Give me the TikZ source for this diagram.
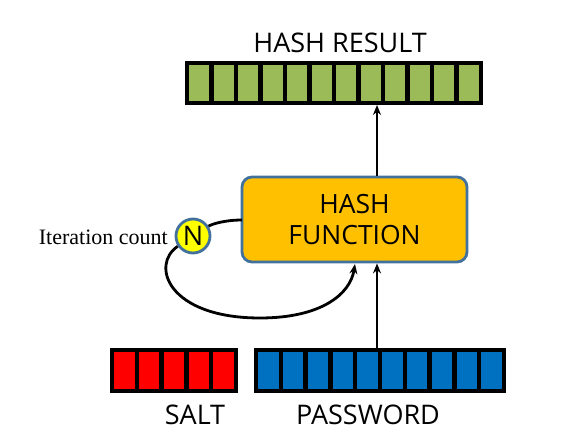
\documentclass[tikz,border=0pt]{standalone}
\usepackage{fontspec}
\setmainfont{Open Sans}
\newfontfamily\serifit{Liberation Serif}
\usetikzlibrary{arrows.meta}
\definecolor{cgreen}{HTML}{9BBB59}
\definecolor{cred}{HTML}{FF0000}
\definecolor{cblue}{HTML}{0070C0}
\definecolor{corange}{HTML}{FFC000}
\definecolor{cedge}{HTML}{41719C}
\definecolor{cyellow}{HTML}{FFFF00}
\tikzset{
  cell/.style={draw=black, line width=4.5pt},
  hfbox/.style={draw=cedge, line width=2.8pt, fill=corange, rounded corners=10pt, minimum width=225pt, minimum height=85pt, inner sep=0pt, align=center, font=\fontsize{26.5}{31}\selectfont},
  ncirc/.style={circle, draw=cedge, line width=2.8pt, fill=cyellow, minimum size=34pt, inner sep=0pt, font=\fontsize{27}{27}\selectfont},
  lbl/.style={font=\fontsize{27}{30}\selectfont, inner sep=0pt},
  arr/.style={line width=2.8pt, -{Stealth[length=10pt,width=8pt]}},
  loop/.style={line width=2.8pt}
}
\begin{document}
\begin{tikzpicture}[x=1pt,y=-1pt]
\useasboundingbox (0,0) rectangle (579,443);
% hash result bar
\foreach \i in {0,...,11} {
  \draw[cell, fill=cgreen] (187+\i*24.5,63) rectangle ++(24.5,40);
}
% salt bar
\foreach \i in {0,...,4} {
  \draw[cell, fill=cred] (112+\i*24.8,350) rectangle ++(24.8,41);
}
% password bar
\foreach \i in {0,...,9} {
  \draw[cell, fill=cblue] (256+\i*24.8,350) rectangle ++(24.8,41);
}
\node[lbl] (res) at (340,43) {HASH RESULT};
\node[lbl] (salt) at (195,415) {SALT};
\node[lbl] (pw) at (368,415) {PASSWORD};
\node[hfbox] (hf) at (354.5,219.5) {HASH\\FUNCTION};
\node[ncirc] (N) at (193,236) {N};
\node[anchor=east, inner sep=0pt, font=\serifit\fontsize{22}{22}\selectfont] (it) at (168,237) {Iteration count};
\coordinate (pwtop) at (377,348);
\coordinate (restop) at (377,105);
\coordinate (loopin) at (242,220);
\coordinate (loopend) at (355,264);
\draw[arr] (pwtop) -- (pwtop |- hf.south);
\draw[arr] (pwtop |- hf.north) -- (restop);
\draw[loop] (loopin) .. controls (225,220) and (212,224) .. (N);
\draw[arr] (N) .. controls (150,265) and (168,318) .. (260,318) .. controls (320,318) and (350,295) .. (loopend);
\end{tikzpicture}
\end{document}
